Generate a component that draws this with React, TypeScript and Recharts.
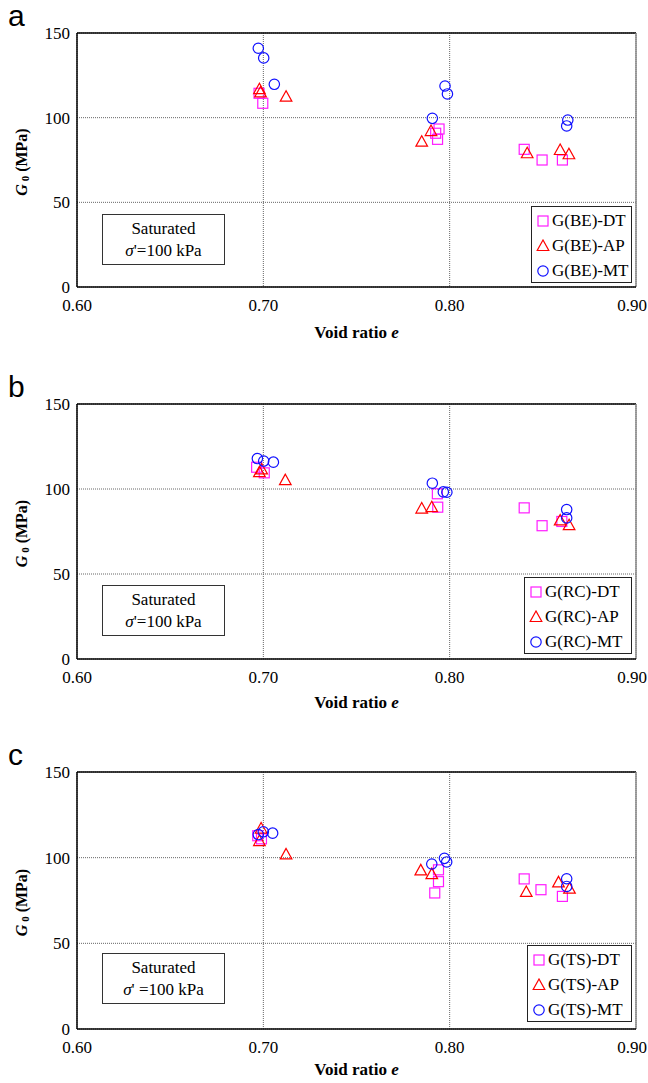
import { CartesianGrid, Legend, ReferenceLine, Scatter, ScatterChart, XAxis, YAxis } from "recharts"

interface Pt {
  e: number
  g: number
}

const voidTicks = [0.6, 0.7, 0.8, 0.9]
const g0Ticks = [0, 50, 100, 150]

// panel a: bender element
const beDT: Pt[] = [
  { e: 0.6977, g: 114.4 }, { e: 0.6997, g: 108.5 }, { e: 0.7943, g: 93.3 }, { e: 0.7925, g: 90.8 },
  { e: 0.7935, g: 87.2 }, { e: 0.84, g: 81.3 }, { e: 0.8496, g: 75.0 }, { e: 0.8605, g: 75.0 },
]
const beAP: Pt[] = [
  { e: 0.6979, g: 116.8 }, { e: 0.6985, g: 114.9 }, { e: 0.7122, g: 112.4 }, { e: 0.785, g: 85.8 },
  { e: 0.79, g: 92.1 }, { e: 0.8416, g: 79.0 }, { e: 0.8593, g: 80.9 }, { e: 0.864, g: 78.4 },
]
const beMT: Pt[] = [
  { e: 0.6973, g: 141.0 }, { e: 0.7002, g: 135.3 }, { e: 0.7059, g: 119.7 }, { e: 0.7907, g: 99.6 },
  { e: 0.7975, g: 118.7 }, { e: 0.7988, g: 114.0 }, { e: 0.8634, g: 98.6 }, { e: 0.8628, g: 95.1 },
]

// panel b: resonant column
const rcDT: Pt[] = [
  { e: 0.6964, g: 112.8 }, { e: 0.7005, g: 109.5 }, { e: 0.7934, g: 97.2 }, { e: 0.7936, g: 89.3 },
  { e: 0.84, g: 88.9 }, { e: 0.8496, g: 78.4 }, { e: 0.8602, g: 80.9 },
]
const rcAP: Pt[] = [
  { e: 0.6979, g: 109.9 }, { e: 0.6991, g: 111.5 }, { e: 0.7118, g: 105.2 }, { e: 0.785, g: 88.5 },
  { e: 0.7904, g: 89.3 }, { e: 0.8593, g: 81.5 }, { e: 0.8641, g: 78.7 },
]
const rcMT: Pt[] = [
  { e: 0.6968, g: 117.9 }, { e: 0.7002, g: 116.4 }, { e: 0.7054, g: 115.8 }, { e: 0.7907, g: 103.4 },
  { e: 0.7966, g: 98.3 }, { e: 0.7985, g: 98.1 }, { e: 0.8628, g: 87.9 }, { e: 0.8628, g: 83.0 },
]

// panel c: torsional shear
const tsDT: Pt[] = [
  { e: 0.697, g: 112.8 }, { e: 0.699, g: 111.0 }, { e: 0.794, g: 92.9 }, { e: 0.794, g: 86.0 },
  { e: 0.792, g: 79.4 }, { e: 0.84, g: 87.6 }, { e: 0.849, g: 81.3 }, { e: 0.8605, g: 77.4 },
]
const tsAP: Pt[] = [
  { e: 0.6988, g: 117.0 }, { e: 0.6979, g: 109.7 }, { e: 0.7122, g: 101.9 }, { e: 0.7845, g: 92.6 },
  { e: 0.7904, g: 90.4 }, { e: 0.8411, g: 80.0 }, { e: 0.8584, g: 85.6 }, { e: 0.8643, g: 81.9 },
]
const tsMT: Pt[] = [
  { e: 0.6973, g: 113.5 }, { e: 0.7, g: 115.1 }, { e: 0.705, g: 114.3 }, { e: 0.7904, g: 96.3 },
  { e: 0.7972, g: 99.6 }, { e: 0.7984, g: 97.5 }, { e: 0.8628, g: 87.7 }, { e: 0.8628, g: 83.2 },
]

const panelLetters = ["a", "b", "c"]
const methods = ["BE", "RC", "TS"]
const stressText = ["σ'=100 kPa", "σ'=100 kPa", "σ' =100 kPa"]

const SERIF = "Liberation Serif, Times New Roman, serif"
const MAGENTA = "#ff1cff"
const RED = "#ff0000"
const BLUE = "#1010ff"

const Square = ({ cx, cy }: any) => (
  <rect x={cx - 5} y={cy - 5} width={10} height={10} fill="none" stroke={MAGENTA} strokeWidth={1.2} />
)
const Triangle = ({ cx, cy }: any) => (
  <polygon
    points={`${cx},${cy - 6} ${cx - 5.8},${cy + 4.5} ${cx + 5.8},${cy + 4.5}`}
    fill="none"
    stroke={RED}
    strokeWidth={1.2}
  />
)
const Circle = ({ cx, cy }: any) => (
  <circle cx={cx} cy={cy} r={5.2} fill="none" stroke={BLUE} strokeWidth={1.2} />
)

const markers = [Square, Triangle, Circle]

const makeLegend = (names: string[]) => () => (
  <div
    style={{
      border: "1.5px solid #222",
      background: "#fff",
      fontFamily: SERIF,
      fontSize: 17,
      padding: "1px 0 0 4px",
      boxSizing: "border-box",
      height: 77,
    }}
  >
    {names.map((name, i) => {
      const M = markers[i]
      return (
        <div key={name} style={{ display: "flex", alignItems: "center", height: 25, whiteSpace: "nowrap" }}>
          <svg width={14} height={14} style={{ marginRight: 2 }}>
            <M cx={7} cy={7} />
          </svg>
          <span>{name}</span>
        </div>
      )
    })}
  </div>
)

const XTick = ({ x, y, payload }: any) => {
  const last = payload.value >= 0.9
  return (
    <text
      x={last ? 647 : x}
      y={y + 22}
      textAnchor={last ? "end" : "middle"}
      fontFamily={SERIF}
      fontSize={17}
      fill="#000"
    >
      {Number(payload.value).toFixed(2)}
    </text>
  )
}

const YTick = ({ x, y, payload }: any) => (
  <text x={x} y={y + 6} textAnchor="end" fontFamily={SERIF} fontSize={17} fill="#000">
    {payload.value}
  </text>
)

const yLabel = (props: any) => {
  const vb = props.viewBox
  const cy = vb.y + vb.height / 2 + 2
  const x = 27
  return (
    <text
      x={x}
      y={cy}
      transform={`rotate(-90 ${x} ${cy})`}
      textAnchor="middle"
      fontFamily={SERIF}
      fontWeight="bold"
      fontSize={16}
      fill="#000"
    >
      <tspan fontStyle="italic">G</tspan>
      <tspan fontSize={11} dy={2}> 0</tspan>
      <tspan dy={-2}> (MPa)</tspan>
    </text>
  )
}

const makeXLabel = (dy: number) => (props: any) => {
  const vb = props.viewBox
  return (
    <text
      x={vb.x + vb.width / 2}
      y={vb.y + dy}
      textAnchor="middle"
      fontFamily={SERIF}
      fontWeight="bold"
      fontSize={17}
      fill="#000"
    >
      Void ratio <tspan fontStyle="italic">e</tspan>
    </text>
  )
}

interface PanelProps {
  index: number
  top: number
  plotH: number
  xLabelDy: number
  legendLeft: number
  series: Pt[][]
}

function Panel({ index, top, plotH, xLabelDy, legendLeft, series }: PanelProps) {
  const method = methods[index]
  const names = [`G(${method})-DT`, `G(${method})-AP`, `G(${method})-MT`]
  const chartH = 370
  const axisH = 30
  return (
    <div style={{ position: "absolute", left: 0, top, width: 648, height: chartH }}>
      <ScatterChart
        width={648}
        height={chartH}
        margin={{ top: 33, right: 12, left: 0, bottom: chartH - 33 - plotH - axisH }}
      >
        <CartesianGrid stroke="#666" strokeDasharray="1 1" strokeWidth={1} />
        <XAxis
          type="number"
          dataKey="e"
          domain={[0.6, 0.9]}
          ticks={voidTicks}
          height={axisH}
          tickLine={false}
          tickSize={0}
          axisLine={{ stroke: "#000", strokeWidth: 1.5 }}
          tick={<XTick />}
          label={makeXLabel(xLabelDy)}
          interval={0}
          allowDataOverflow
        />
        <YAxis
          type="number"
          dataKey="g"
          domain={[0, 150]}
          ticks={g0Ticks}
          width={77}
          tickLine={false}
          tickSize={0}
          tickMargin={7}
          axisLine={{ stroke: "#000", strokeWidth: 1.5 }}
          tick={<YTick />}
          label={yLabel}
          interval={0}
          allowDataOverflow
        />
        <ReferenceLine y={150} stroke="#000" strokeWidth={1.5} />
        <ReferenceLine x={0.9} stroke="#888" strokeWidth={1.5} />
        {series.map((data, i) => (
          <Scatter
            key={names[i]}
            name={names[i]}
            data={data}
            shape={markers[i]}
            isAnimationActive={false}
          />
        ))}
        <Legend
          layout="vertical"
          align="center"
          verticalAlign="middle"
          content={makeLegend(names)}
          wrapperStyle={{ left: legendLeft, top: 206, width: 632 - legendLeft, height: 77 }}
        />
      </ScatterChart>
      <div
        style={{
          position: "absolute",
          left: 102,
          top: 214,
          width: 123,
          height: 51,
          boxSizing: "border-box",
          border: "1.5px solid #333",
          background: "#fff",
          fontFamily: SERIF,
          fontSize: 17,
          textAlign: "center",
          lineHeight: "22px",
          paddingTop: 3,
        }}
      >
        <div>Saturated</div>
        <div>
          <i>σ</i>
          {stressText[index].slice(1)}
        </div>
      </div>
      <svg style={{ position: "absolute", left: 0, top: -14 }} width={44} height={52}>
        <text x={8} y={40} fontFamily="Liberation Sans, Arial, sans-serif" fontSize={30} fill="#000">
          {panelLetters[index]}
        </text>
      </svg>
    </div>
  )
}

export default function App() {
  return (
    <div
      style={{
        position: "absolute",
        left: 0,
        top: 0,
        width: 648,
        height: 1083,
        overflow: "hidden",
        background: "#fff",
      }}
    >
      <Panel index={0} top={0} plotH={254} xLabelDy={51} legendLeft={531} series={[beDT, beAP, beMT]} />
      <Panel index={1} top={371} plotH={255} xLabelDy={49} legendLeft={524} series={[rcDT, rcAP, rcMT]} />
      <Panel index={2} top={739} plotH={257} xLabelDy={46} legendLeft={527} series={[tsDT, tsAP, tsMT]} />
    </div>
  )
}
